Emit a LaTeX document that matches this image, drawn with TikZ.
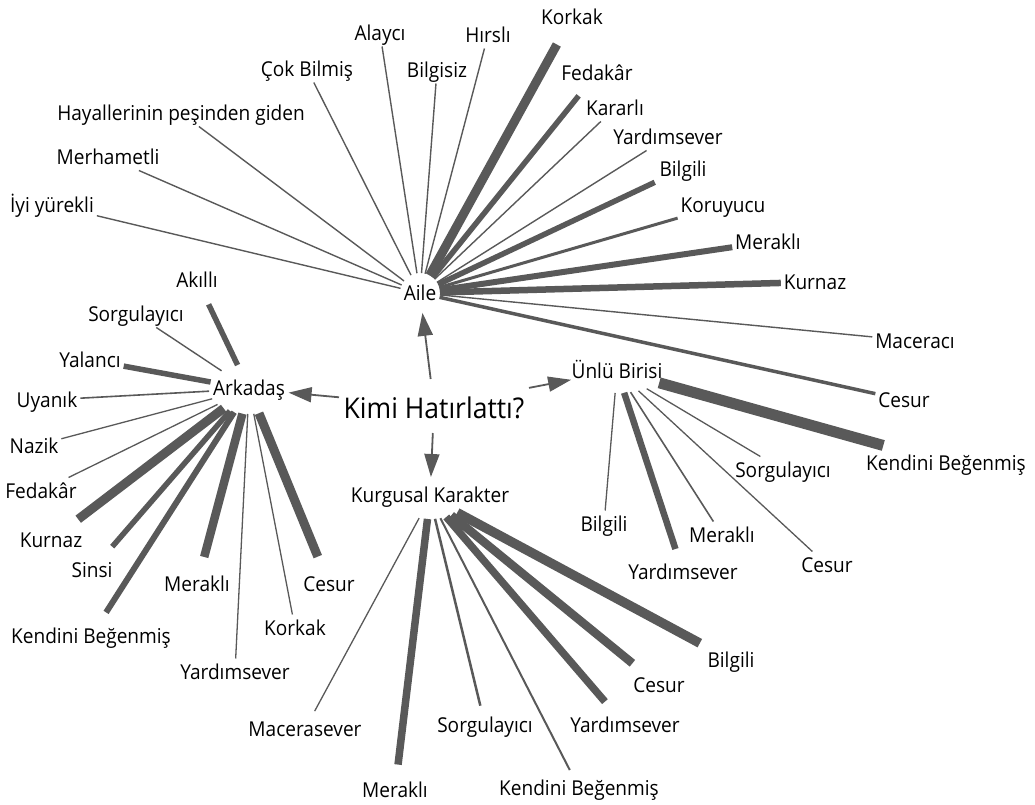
\documentclass[tikz,border=0pt]{standalone}
\usepackage{fontspec}
\setmainfont{Open Sans}[FakeStretch=0.93]
\usetikzlibrary{arrows.meta,shapes.geometric}
\definecolor{edgecol}{RGB}{89,89,89}
\newcommand{\hubtext}[2]{\raisebox{#1}[0pt][0pt]{\makebox[0pt]{#2}}}
\begin{document}
\begin{tikzpicture}[x=1pt,y=-1pt,
  lab/.style={font=\fontsize{20.5}{24}\selectfont, text height=18pt, text depth=3pt, inner sep=3pt, outer sep=0pt},
  hub/.style={font=\fontsize{20.5}{24}\selectfont, inner sep=0pt, outer sep=0pt},
  ln/.style={draw=edgecol, line width=#1},
  arr/.style={draw=edgecol, line width=1.8pt, -{Triangle[length=23pt,width=15pt]}}]
\useasboundingbox (0,0) rectangle (1035,805);
% hubs
\node[hub, circle, minimum size=40pt] (aile) at (420,293) {\hubtext{-7.5pt}{Aile}};
\node[hub, ellipse, minimum width=80pt, minimum height=50pt] (ark) at (249,389) {\hubtext{-6pt}{Arkadaş}};
\node[hub, rectangle, minimum width=190pt, minimum height=54pt, font=\fontsize{28.5}{32}\selectfont] (kimi) at (434,406) {\hubtext{-12pt}{Kimi Hatırlattı?}};
\node[hub, ellipse, minimum width=100pt, minimum height=44pt] (unlu) at (617,371) {\hubtext{-7pt}{Ünlü Birisi}};
\node[hub, ellipse, minimum width=76pt, minimum height=42pt] (kurg) at (430,498) {\hubtext{-4pt}{Kurgusal Karakter}};
% Aile labels
\node[lab] (a1) at (52,205) {İyi yürekli};
\node[lab] (a2) at (108,157) {Merhametli};
\node[lab] (a3) at (181,113) {Hayallerinin peşinden giden};
\node[lab] (a4) at (307,69) {Çok Bilmiş};
\node[lab] (a5) at (380,33) {Alaycı};
\node[lab] (a6) at (437,70) {Bilgisiz};
\node[lab] (a7) at (488,35) {Hırslı};
\node[lab] (a8) at (572,17) {Korkak};
\node[lab] (a9) at (597,73) {Fedakâr};
\node[lab] (a10) at (615,108) {Kararlı};
\node[lab] (a11) at (668,137) {Yardımsever};
\node[lab] (a12) at (683,169) {Bilgili};
\node[lab] (a13) at (723,205) {Koruyucu};
\node[lab] (a14) at (768,242) {Meraklı};
\node[lab] (a15) at (815,282) {Kurnaz};
\node[lab] (a16) at (915,341) {Maceracı};
\node[lab] (a17) at (904,400) {Cesur};
% Arkadas labels
\node[lab] (r1) at (197,280) {Akıllı};
\node[lab] (r2) at (136,314) {Sorgulayıcı};
\node[lab] (r3) at (90,360) {Yalancı};
\node[lab] (r4) at (47,400) {Uyanık};
\node[lab] (r5) at (34,446) {Nazik};
\node[lab] (r6) at (41,491) {Fedakâr};
\node[lab] (r7) at (51,540) {Kurnaz};
\node[lab] (r8) at (92,570) {Sinsi};
\node[lab] (r9) at (91,636) {Kendini Beğenmiş};
\node[lab] (r10) at (197,584) {Meraklı};
\node[lab] (r11) at (235,672) {Yardımsever};
\node[lab] (r12) at (295,628) {Korkak};
\node[lab] (r13) at (329,584) {Cesur};
% Unlu labels
\node[lab] (u1) at (604,524) {Bilgili};
\node[lab] (u2) at (683,572) {Yardımsever};
\node[lab] (u3) at (722,535) {Meraklı};
\node[lab] (u4) at (783,470) {Sorgulayıcı};
\node[lab] (u5) at (827,565) {Cesur};
\node[lab] (u6) at (946,463) {Kendini Beğenmiş};
% Kurgusal labels
\node[lab] (k1) at (305,729) {Macerasever};
\node[lab] (k2) at (395,790) {Meraklı};
\node[lab] (k3) at (485,725) {Sorgulayıcı};
\node[lab] (k4) at (579,788) {Kendini Beğenmiş};
\node[lab] (k5) at (625,725) {Yardımsever};
\node[lab] (k6) at (659,685) {Cesur};
\node[lab] (k7) at (731,660) {Bilgili};
% Aile edges
\draw[ln=1.4pt] (a1) -- (aile);
\draw[ln=1.4pt] (a2) -- (aile);
\draw[ln=1.4pt] (a3) -- (aile);
\draw[ln=1.4pt] (a4) -- (aile);
\draw[ln=1.4pt] (a5) -- (aile);
\draw[ln=1.4pt] (a6) -- (aile);
\draw[ln=1.4pt] (a7) -- (aile);
\draw[ln=9pt, shorten <=16pt] (a8) -- (aile);
\draw[ln=5.5pt, shorten <=12pt] (a9) -- (aile);
\draw[ln=1.4pt] (a10) -- (aile);
\draw[ln=1.4pt] (a11) -- (aile);
\draw[ln=5.5pt, shorten <=2pt] (a12) -- (aile);
\draw[ln=3pt] (a13) -- (aile);
\draw[ln=6pt] (a14) -- (aile);
\draw[ln=6.5pt] (a15) -- (aile);
\draw[ln=1.4pt] (a16) -- (aile);
\draw[ln=3.5pt] (a17) -- (aile);
% Arkadas edges
\draw[ln=5.5pt, shorten <=12pt] (r1) -- (ark);
\draw[ln=1.4pt] (r2) -- (ark);
\draw[ln=5.5pt] (r3) -- (ark);
\draw[ln=1.6pt] (r4) -- (ark);
\draw[ln=1.3pt] (r5) -- (ark);
\draw[ln=1.3pt] (r6) -- (ark);
\draw[ln=9pt, shorten <=12pt] (r7) -- (ark);
\draw[ln=5.5pt, shorten <=13pt] (r8) -- (ark);
\draw[ln=6pt, shorten <=12pt] (r9) -- (ark);
\draw[ln=8.5pt, shorten <=14pt] (r10) -- (ark);
\draw[ln=1.3pt] (r11) -- (ark);
\draw[ln=1.3pt] (r12) -- (ark);
\draw[ln=9pt, shorten <=15pt] (r13) -- (ark);
% Unlu edges
\draw[ln=1.3pt] (u1) -- (unlu);
\draw[ln=6.5pt, shorten <=10pt] (u2) -- (unlu);
\draw[ln=1.6pt] (u3) -- (unlu);
\draw[ln=1.3pt] (u4) -- (unlu);
\draw[ln=1.3pt] (u5) -- (unlu);
\draw[ln=11pt, shorten <=15pt] (u6) -- (unlu);
% Kurgusal edges
\draw[ln=1.3pt, shorten <=5pt] (k1) -- (kurg);
\draw[ln=7.5pt, shorten <=12pt] (k2) -- (kurg);
\draw[ln=2.5pt, shorten <=6pt] (k3) -- (kurg);
\draw[ln=2pt, shorten <=5pt] (k4) -- (kurg);
\draw[ln=7.5pt, shorten <=13pt] (k5) -- (kurg);
\draw[ln=8.5pt, shorten <=13pt] (k6) -- (kurg);
\draw[ln=9.5pt, shorten <=7pt] (k7) -- (kurg);
% arrows
\draw[arr] (kimi) -- (aile);
\draw[arr] (kimi) -- (ark);
\draw[arr] (kimi) -- (unlu);
\draw[arr] (kimi) -- (kurg);
\end{tikzpicture}
\end{document}
